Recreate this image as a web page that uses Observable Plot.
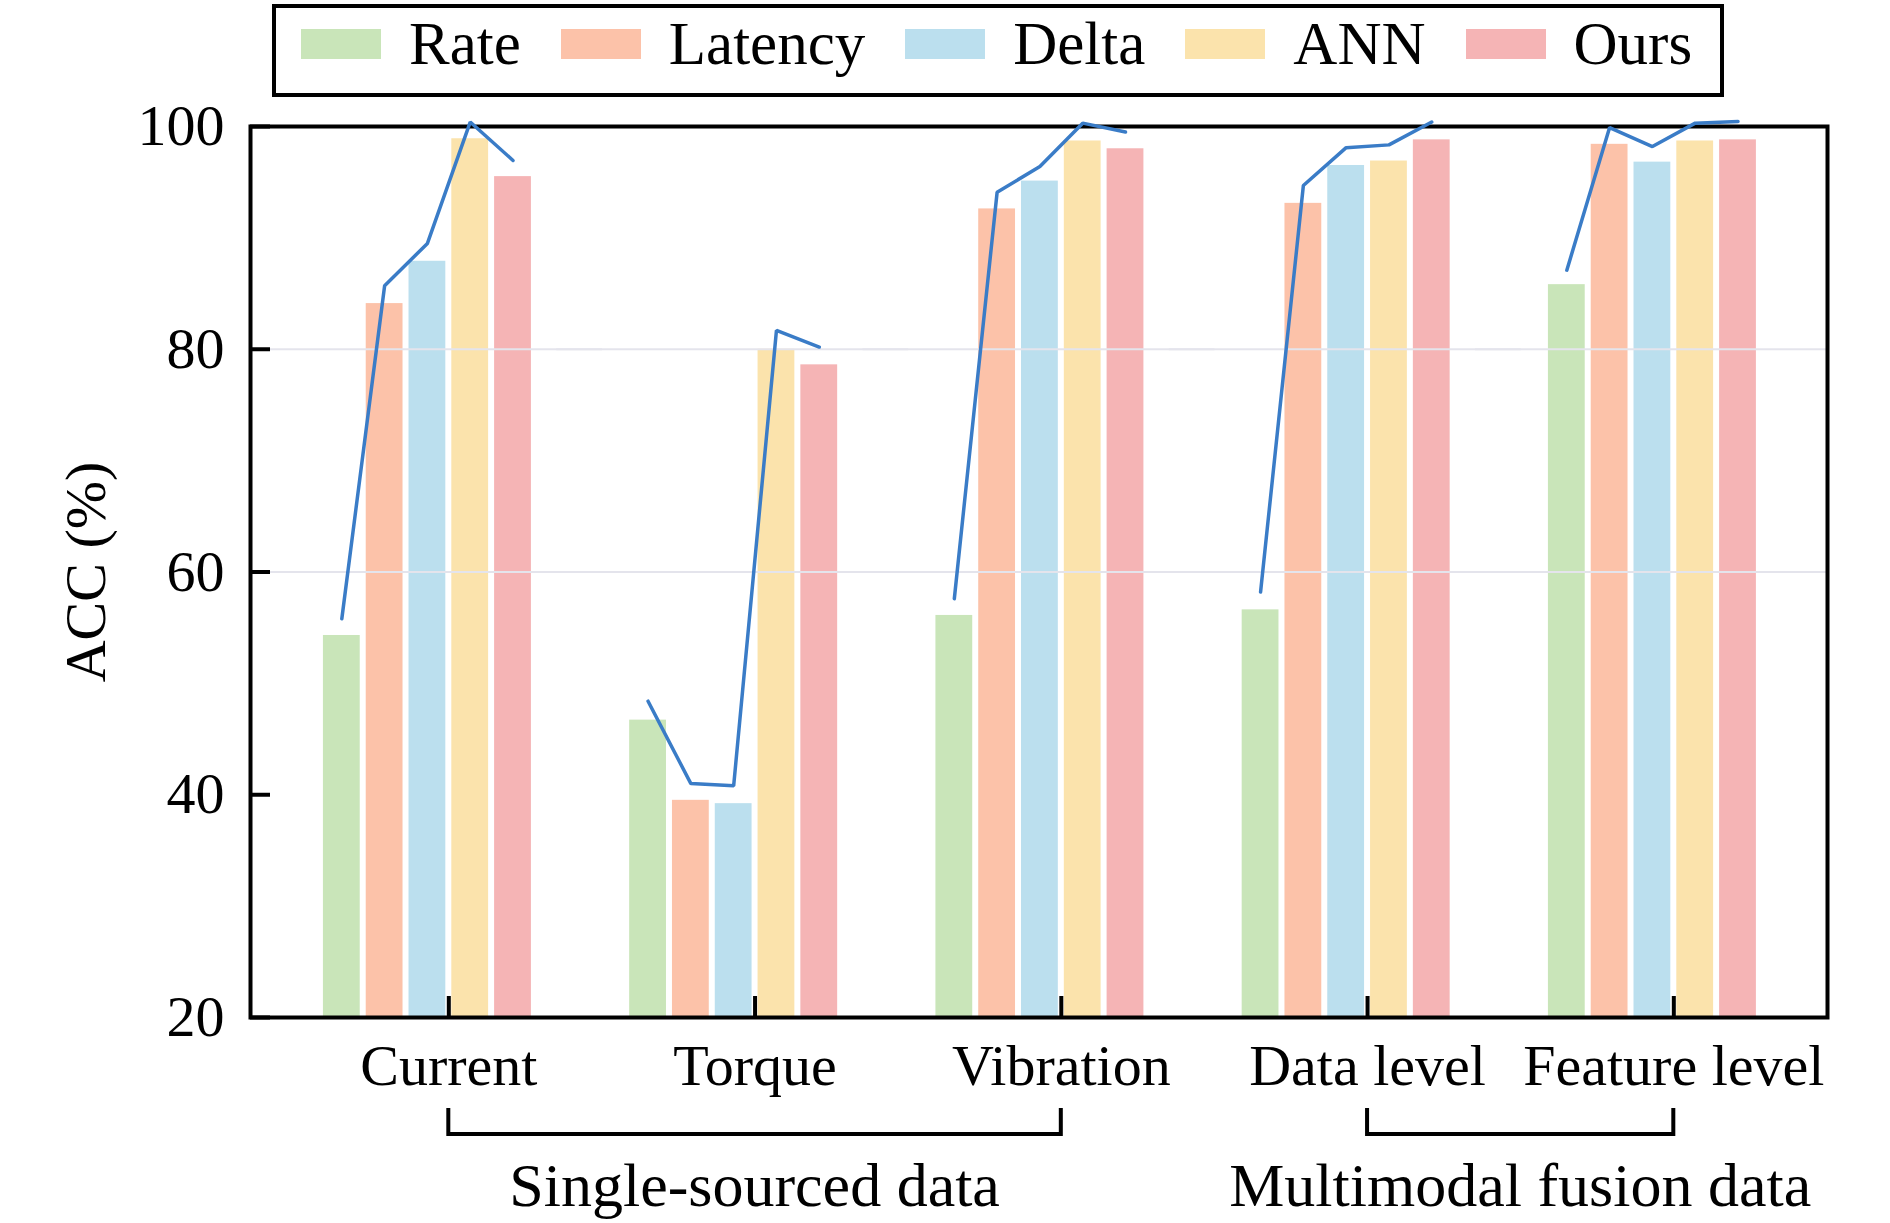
<!DOCTYPE html>
<html>
<head>
<meta charset="utf-8">
<script src="https://cdn.jsdelivr.net/npm/d3@7"></script>
<script src="https://cdn.jsdelivr.net/npm/@observablehq/plot@0.6"></script>
<style>
  html, body { margin: 0; padding: 0; background: #fff; }
  body { width: 1890px; height: 1223px; overflow: hidden; font-family: "Liberation Serif", "Times New Roman", serif; }
  #legendWrap { position: relative; height: 60px; z-index: 2; }
  #legend {
    position: absolute; left: 272px; top: 4px; width: 1452px; height: 93px;
    box-sizing: border-box; border: 4px solid #000; display: flex; align-items: center;
    padding-left: 25px; padding-bottom: 14px;
  }
  .item { display: flex; align-items: center; margin-right: 40px; }
  .sw { width: 80px; height: 30px; margin-right: 28px; }
  .lab { font-size: 61px; line-height: 1; color: #000; }
  svg { display: block; }
</style>
</head>
<body>
<div id="legendWrap"><div id="legend"></div></div>
<div id="chart"></div>
<script>
const categories = ["Current", "Torque", "Vibration", "Data level", "Feature level"];
const series = ["Rate", "Latency", "Delta", "ANN", "Ours"];
const colors = ["#c9e5b9", "#fcc2a9", "#bbdfee", "#fbe3ac", "#f5b4b5"];

// bar values (ACC %)
const rate    = [54.3, 46.7, 56.1, 56.6, 85.8];
const latency = [84.1, 39.5, 92.6, 93.1, 98.4];
const delta   = [87.9, 39.2, 95.1, 96.5, 96.8];
const ann     = [98.9, 80.0, 98.7, 96.9, 98.7];
const ours    = [95.5, 78.6, 98.0, 98.8, 98.8];

// blue trend line values
const rateLine    = [55.8, 48.4, 57.6, 58.2, 87.1];
const latencyLine = [85.7, 41.0, 94.1, 94.7, 99.9];
const deltaLine   = [89.5, 40.8, 96.4, 98.1, 98.2];
const annLine     = [100.4, 81.7, 100.3, 98.35, 100.3];
const oursLine    = [96.95, 80.2, 99.5, 100.4, 100.45];

const yDomain = [20, 100];
const yTicks = [20, 40, 60, 80, 100];
const gridTicks = [60, 80];

const groups = [
  {label: "Single-sourced data", from: "Current", to: "Vibration"},
  {label: "Multimodal fusion data", from: "Data level", to: "Feature level"}
];

const barValues = [rate, latency, delta, ann, ours];
const lineValues = [rateLine, latencyLine, deltaLine, annLine, oursLine];
const bars = [];
const lines = [];
categories.forEach((c, i) => {
  series.forEach((s, j) => {
    bars.push({category: c, series: s, value: barValues[j][i]});
    lines.push({category: c, series: s, value: lineValues[j][i]});
  });
});

// Legend
const legend = d3.select("#legend");
series.forEach((s, j) => {
  const it = legend.append("div").attr("class", "item");
  it.append("div").attr("class", "sw").style("background", colors[j]);
  it.append("div").attr("class", "lab").text(s);
});

const font = "Liberation Serif, Times New Roman, serif";
const W = 1890, H = 1163, mL = 250, mR = 63, mT = 66, mB = 206;
const fxOpts = {domain: categories, paddingInner: 0.142, paddingOuter: 0.1457, align: 0.75, round: false};

// facet geometry (to extend the y axis, grid and frame to the outer plot area)
const fxPre = Plot.scale({fx: {...fxOpts, range: [mL, W - mR]}});
const leftGap = fxPre.apply(categories[0]) - mL;
const rightGap = (W - mR) - (fxPre.apply(categories[categories.length - 1]) + fxPre.bandwidth);

const chart = Plot.plot({
  width: W,
  height: H,
  marginLeft: mL,
  marginRight: mR,
  marginTop: mT,
  marginBottom: mB,
  style: {fontFamily: font, fontSize: "58px", background: "white", color: "black"},
  fx: {...fxOpts, label: null},
  x: {domain: [...series, "_"], padding: 0.14, round: false, axis: null},
  y: {domain: yDomain, label: null},
  color: {domain: series, range: colors},
  marks: [
    Plot.barY(bars, {fx: "category", x: "series", y1: yDomain[0], y2: "value", fill: "series"}),
    Plot.gridY(gridTicks, {stroke: "#e4e4ec", strokeOpacity: 1, strokeWidth: 2, insetLeft: -leftGap, insetRight: -rightGap}),
    Plot.frame({facet: "super", stroke: "black", strokeWidth: 4, insetLeft: -leftGap, insetRight: -rightGap}),
    Plot.line(lines, {fx: "category", x: "series", y: "value", stroke: "#3a7cc7", strokeWidth: 3.5, strokeLinejoin: "miter"}),
    Plot.axisY(yTicks, {anchor: "left", dx: -leftGap, tickSize: -20, tickPadding: 46, strokeWidth: 4, fontSize: 58,
      label: "ACC (%)", labelAnchor: "center", labelOffset: 187 + leftGap, labelArrow: false}),
    Plot.axisFx({anchor: "bottom", tickSize: -21, tickPadding: 47, strokeWidth: 4, fontSize: 58, label: null})
  ]
});

document.getElementById("chart").appendChild(chart);

// group brackets below the category labels
const fxS = chart.scale("fx");
const yS = chart.scale("y");
const base = yS.apply(yDomain[0]);
const svg = d3.select(chart);
const center = c => fxS.apply(c) + fxS.bandwidth / 2;
const gg = svg.append("g");
groups.forEach(g => {
  const x1 = center(g.from), x2 = center(g.to);
  gg.append("path")
    .attr("d", `M${x1},${base + 91}V${base + 117}H${x2}V${base + 91}`)
    .attr("fill", "none").attr("stroke", "black").attr("stroke-width", 4);
  gg.append("text")
    .attr("x", (x1 + x2) / 2).attr("y", base + 189)
    .attr("text-anchor", "middle").attr("font-size", 62).attr("font-family", font).attr("fill", "black")
    .text(g.label);
});
</script>
</body>
</html>
